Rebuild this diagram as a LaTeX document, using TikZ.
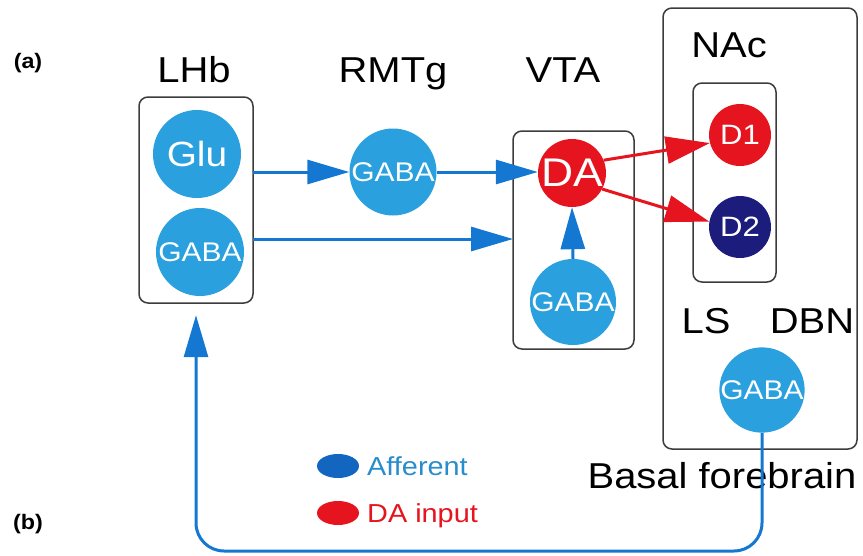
\documentclass[tikz,border=0pt]{standalone}
\usepackage{fontspec}
\setmainfont{Liberation Sans}[FakeStretch=1.11]
\usetikzlibrary{arrows.meta,calc,shapes.geometric}
\definecolor{cellblue}{RGB}{42,160,222}
\definecolor{arrblue}{RGB}{20,120,210}
\definecolor{dared}{RGB}{230,20,30}
\definecolor{navy}{RGB}{28,28,125}
\definecolor{legblue}{RGB}{18,102,192}
\definecolor{afftext}{RGB}{40,140,205}
\definecolor{boxgray}{RGB}{60,60,60}
\tikzset{
  cell/.style={circle,fill=cellblue,text=white,inner sep=0pt,minimum size=#1},
  cell/.default=88pt,
  regionbox/.style={draw=boxgray,line width=1.5pt,rounded corners=9pt},
  lab/.style={font=\fontsize{36}{40}\selectfont,anchor=base},
  gaba/.style={font=\fontsize{27}{29}\selectfont},
  bluearr/.style={draw=arrblue,line width=3pt,-{Triangle[length=42pt,width=24pt]}},
  redarr/.style={draw=dared,line width=3pt,-{Triangle[length=44pt,width=27pt]}},
  tag/.style={font=\fontsize{21}{23}\selectfont\bfseries,anchor=base}
}
\begin{document}
\begin{tikzpicture}[x=1pt,y=-1pt]
\useasboundingbox (0,0) rectangle (863,555);
% labels
\node[tag] (ta) at (28,68) {(a)};
\node[tag] (tb) at (28,529) {(b)};
\node[lab] (lhblab) at (194,82) {LHb};
\node[lab] (rmtglab) at (393,82) {RMTg};
\node[lab] (vtalab) at (563,82) {VTA};
\node[lab] (naclab) at (729,57) {NAc};
\node[lab] (lslab) at (706,333) {LS};
\node[lab] (dbnlab) at (812,333) {DBN};
\node[lab] (bflab) at (722,488) {Basal forebrain};
% boxes
\draw[regionbox] (139,97) rectangle (253,303);
\node[inner sep=0pt,minimum width=114pt,minimum height=206pt] (lhbbox) at (196,200) {};
\draw[regionbox] (513,131) rectangle (634,349);
\node[inner sep=0pt,minimum width=121pt,minimum height=218pt] (vtabox) at (573.5,240) {};
\draw[regionbox] (663,8) rectangle (857,449);
\draw[regionbox] (693,83) rectangle (776,282);
% cells
\node[cell=88pt,font=\fontsize{35}{38}\selectfont] (glu) at (197,154) {Glu};
\node[cell=88pt,gaba] (lgaba) at (200,252) {GABA};
\node[cell=87pt,gaba] (rgaba) at (393,172) {GABA};
\node[cell=68pt,fill=dared,font=\fontsize{40}{42}\selectfont] (da) at (572,173) {DA};
\node[cell=86pt,gaba] (vgaba) at (573,302) {GABA};
\node[cell=62pt,fill=dared,font=\fontsize{28}{30}\selectfont] (d1) at (740,135) {D1};
\node[cell=62pt,fill=navy,font=\fontsize{28}{30}\selectfont] (d2) at (740,227) {D2};
\node[cell=84pt,gaba] (bgaba) at (762,390) {GABA};
% connectors
\coordinate (vtain) at (513,239);
\draw[bluearr] (lhbbox.east |- rgaba) -- (rgaba.west);
\draw[bluearr] (rgaba.east) -- (da.west |- rgaba);
\draw[bluearr] (lhbbox.east |- vtain) -- (vtain);
\draw[bluearr] (vgaba.north) -- (da.south);
\draw[redarr] (da.22) -- (d1.195);
\draw[redarr] (da.-28) -- (d2.170);
\coordinate (bot) at (0,551);
\draw[draw=arrblue,line width=3pt,rounded corners=28pt,-{Triangle[length=42pt,width=24pt]}]
  (bgaba.south) -- (bgaba.south |- bot) -- (lhbbox.south |- bot) -- ([yshift=-12pt]lhbbox.south);
% legend
\node[ellipse,fill=legblue,minimum width=42pt,minimum height=24pt,inner sep=0pt] (legb) at (338,466) {};
\node[ellipse,fill=dared,minimum width=42pt,minimum height=24pt,inner sep=0pt] (legr) at (338,513) {};
\node[anchor=base west,text=afftext,font=\fontsize{26}{28}\selectfont,inner sep=0pt] (afftxt) at (367,475) {Afferent};
\node[anchor=base west,text=dared,font=\fontsize{26}{28}\selectfont,inner sep=0pt] (datxt) at (367,522) {DA input};
\end{tikzpicture}
\end{document}
